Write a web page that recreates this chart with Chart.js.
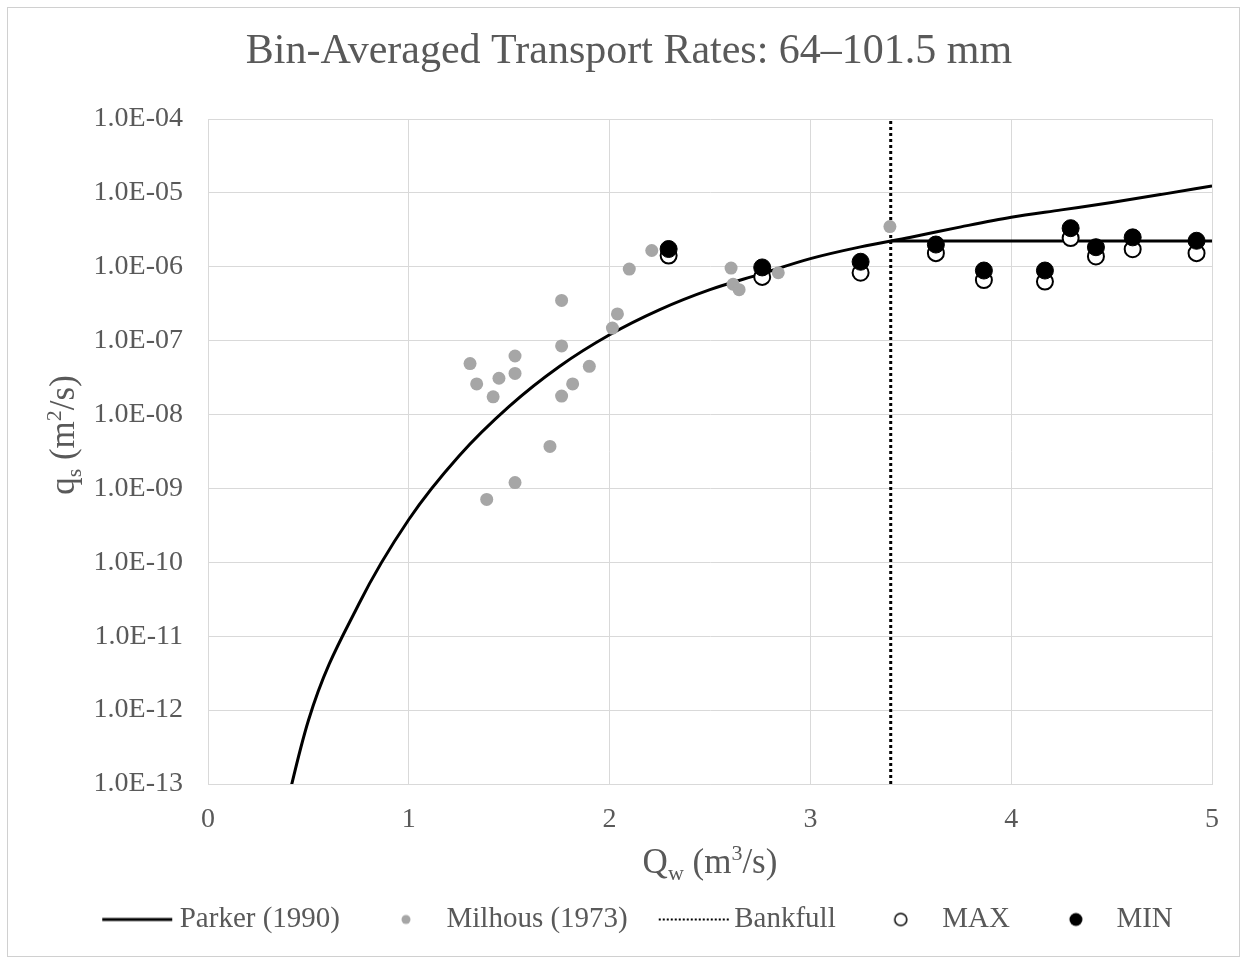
<!DOCTYPE html>
<html>
<head>
<meta charset="utf-8">
<title>Bin-Averaged Transport Rates</title>
<script src="https://cdn.jsdelivr.net/npm/chart.js@4.4.1/dist/chart.umd.min.js"></script>
<style>
  body { margin: 0; background: #fff; }
  #wrap { width: 1247px; height: 960px; }
</style>
</head>
<body>
<div id="wrap"><canvas id="chart" width="1247" height="960"></canvas></div>
<script>
// Parker (1990) curve
const parkerQ = [0.25, 0.5, 0.75, 1.0, 1.25, 1.5, 1.75, 2.0, 2.25, 2.5, 2.75, 3.0, 3.25, 3.5, 3.75, 4.0, 4.25, 4.5, 4.75, 5.0];
const parkerQs = [1.0e-15, 7.24e-13, 2.69e-11, 3.8e-10, 2.75e-9, 1.29e-8, 4.47e-8, 1.2e-7, 2.63e-7, 4.9e-7, 7.94e-7,
                  1.29e-6, 1.86e-6, 2.51e-6, 3.47e-6, 4.68e-6, 5.89e-6, 7.41e-6, 9.55e-6, 1.245e-5];
// Parker held at the bankfull value past bankfull
const cappedQ = [3.4, 5.0];
const cappedQs = [2.24e-6, 2.24e-6];

// Milhous (1973) measurements
const milhousQ = [1.305, 1.338, 1.388, 1.42, 1.449, 1.529, 1.529, 1.529, 1.703, 1.761, 1.761, 1.761,
                  1.816, 1.899, 2.014, 2.039, 2.098, 2.21, 2.605, 2.615, 2.645, 2.84, 3.396];
const milhousQs = [4.9e-8, 2.6e-8, 7.1e-10, 1.74e-8, 3.1e-8, 6.2e-8, 3.6e-8, 1.2e-9, 3.7e-9, 3.5e-7, 8.5e-8, 1.78e-8,
                   2.6e-8, 4.5e-8, 1.48e-7, 2.3e-7, 9.3e-7, 1.66e-6, 9.6e-7, 5.8e-7, 4.9e-7, 8.3e-7, 3.5e-6];

// bankfull discharge
const bankfullQ = 3.4;

// bin averages
const binQ = [2.294, 2.76, 3.25, 3.625, 3.864, 4.168, 4.296, 4.422, 4.605, 4.923];
const maxQs = [1.42e-6, 7.3e-7, 8.3e-7, 1.53e-6, 6.6e-7, 6.3e-7, 2.45e-6, 1.38e-6, 1.73e-6, 1.53e-6];
const minQs = [1.74e-6, 9.8e-7, 1.17e-6, 2.0e-6, 8.9e-7, 8.9e-7, 3.33e-6, 1.84e-6, 2.5e-6, 2.25e-6];

const xTicks = [0, 1, 2, 3, 4, 5];
const yTicks = [1e-13, 1e-12, 1e-11, 1e-10, 1e-9, 1e-8, 1e-7, 1e-6, 1e-5, 1e-4];
const yTickLabels = ['1.0E-13', '1.0E-12', '1.0E-11', '1.0E-10', '1.0E-09', '1.0E-08', '1.0E-07', '1.0E-06', '1.0E-05', '1.0E-04'];

const textColor = '#595959';
const gridColor = '#d9d9d9';
const serif = "'Liberation Serif', 'Times New Roman', serif";

function toPoints(xs, ys) {
    return xs.map((x, i) => ({x: x, y: ys[i]}));
}

// little pictures for the legend, box center is at canvas x 50, text starts near x 104
function legendSample(kind) {
    const c = document.createElement('canvas');
    c.width = 100;
    c.height = 24;
    const g = c.getContext('2d');
    const cy = 12;
    if (kind === 'line') {
        g.strokeStyle = '#000';
        g.lineWidth = 3;
        g.beginPath(); g.moveTo(27, cy); g.lineTo(97, cy); g.stroke();
    } else if (kind === 'dots') {
        g.strokeStyle = '#000';
        g.lineWidth = 2;
        g.setLineDash([2, 2]);
        g.beginPath(); g.moveTo(29, cy); g.lineTo(99, cy); g.stroke();
    } else if (kind === 'gray') {
        g.fillStyle = '#a6a6a6';
        g.beginPath(); g.arc(64, cy, 4.5, 0, Math.PI * 2); g.fill();
    } else if (kind === 'open') {
        g.strokeStyle = '#000';
        g.lineWidth = 1.5;
        g.beginPath(); g.arc(63, cy, 6, 0, Math.PI * 2); g.stroke();
    } else {
        g.fillStyle = '#000';
        g.beginPath(); g.arc(64, cy, 6.5, 0, Math.PI * 2); g.fill();
    }
    return c;
}

const legendOrder = ['Parker (1990)', 'Milhous (1973)', 'Bankfull', 'MAX', 'MIN'];
const legendKinds = {'Parker (1990)': 'line', 'Milhous (1973)': 'gray', 'Bankfull': 'dots', 'MAX': 'open', 'MIN': 'filled'};

function drawRich(ctx, parts, cx, cy, size) {
    const fontFor = p => (p.sub || p.sup ? Math.round(size * 0.62) : size) + 'px ' + serif;
    let total = 0;
    parts.forEach(p => { ctx.font = fontFor(p); total += ctx.measureText(p.t).width; });
    let x = cx - total / 2;
    ctx.textAlign = 'left';
    ctx.textBaseline = 'alphabetic';
    const base = cy + size * 0.33;
    parts.forEach(p => {
        ctx.font = fontFor(p);
        let y = base;
        if (p.sub) y += size * 0.2;
        if (p.sup) y -= size * 0.36;
        ctx.fillText(p.t, x, y);
        x += ctx.measureText(p.t).width;
    });
}

const xTitle = [{t: 'Q'}, {t: 'w', sub: true}, {t: ' (m'}, {t: '3', sup: true}, {t: '/s)'}];
const yTitle = [{t: 'q'}, {t: 's', sub: true}, {t: ' (m'}, {t: '2', sup: true}, {t: '/s)'}];

const frame = {
    id: 'frame',
    beforeDraw(chart) {
        const ctx = chart.ctx;
        ctx.save();
        ctx.fillStyle = '#fff';
        ctx.fillRect(0, 0, chart.width, chart.height);
        ctx.strokeStyle = '#d0d0d0';
        ctx.lineWidth = 1;
        ctx.strokeRect(7.5, 7.5, 1232, 949);
        ctx.restore();
    },
    afterDraw(chart) {
        const {ctx, chartArea} = chart;
        ctx.save();
        ctx.fillStyle = textColor;
        drawRich(ctx, xTitle, (chartArea.left + chartArea.right) / 2, chartArea.bottom + 77, 35);
        ctx.translate(62, 435);
        ctx.rotate(-Math.PI / 2);
        drawRich(ctx, yTitle, 0, 0, 35);
        ctx.restore();
    }
};

const datasets = [
    {
        label: 'MIN',
        data: toPoints(binQ, minQs),
        pointRadius: 8.5,
        pointBackgroundColor: '#000',
        pointBorderColor: '#000',
        pointBorderWidth: 1,
        showLine: false
    },
    {
        label: 'MAX',
        data: toPoints(binQ, maxQs),
        pointRadius: 8,
        pointBackgroundColor: '#fff',
        pointBorderColor: '#000',
        pointBorderWidth: 2,
        showLine: false
    },
    {
        label: 'Milhous (1973)',
        data: toPoints(milhousQ, milhousQs),
        pointRadius: 6.5,
        pointBackgroundColor: '#a6a6a6',
        pointBorderColor: '#a6a6a6',
        pointBorderWidth: 0,
        showLine: false
    },
    {
        label: 'Bankfull',
        data: [{x: bankfullQ, y: yTicks[0]}, {x: bankfullQ, y: yTicks[yTicks.length - 1]}],
        showLine: true,
        borderColor: '#000',
        borderWidth: 3,
        borderDash: [3, 3],
        pointRadius: 0
    },
    {
        label: 'Parker (1990)',
        data: toPoints(parkerQ, parkerQs),
        showLine: true,
        borderColor: '#000',
        borderWidth: 3,
        pointRadius: 0,
        cubicInterpolationMode: 'monotone'
    },
    {
        label: 'Parker capped',
        data: toPoints(cappedQ, cappedQs),
        showLine: true,
        borderColor: '#000',
        borderWidth: 3,
        pointRadius: 0
    }
];

new Chart(document.getElementById('chart'), {
    type: 'scatter',
    data: {datasets: datasets},
    plugins: [frame],
    options: {
        responsive: false,
        animation: false,
        devicePixelRatio: 1,
        events: [],
        layout: {padding: {left: 46, right: 35, top: 0, bottom: 16}},
        plugins: {
            title: {
                display: true,
                text: 'Bin-Averaged Transport Rates: 64\u2013101.5 mm',
                color: textColor,
                font: {family: serif, size: 42, weight: 'normal'},
                padding: {top: 27, bottom: 41.6}
            },
            tooltip: {enabled: false},
            legend: {
                position: 'bottom',
                labels: {
                    usePointStyle: true,
                    pointStyleWidth: 80,
                    padding: 12,
                    color: textColor,
                    font: {family: serif, size: 29},
                    generateLabels: chart => legendOrder.map(name => ({
                        text: name,
                        pointStyle: legendSample(legendKinds[name]),
                        datasetIndex: chart.data.datasets.findIndex(d => d.label === name),
                        fontColor: textColor,
                        fillStyle: 'rgba(0,0,0,0)',
                        strokeStyle: 'rgba(0,0,0,0)',
                        lineWidth: 0,
                        hidden: false
                    }))
                }
            }
        },
        scales: {
            x: {
                type: 'linear',
                min: 0,
                max: 5,
                afterBuildTicks: s => { s.ticks = xTicks.map(v => ({value: v})); },
                afterFit: s => { s.height = 109; },
                ticks: {color: textColor, font: {family: serif, size: 28}, padding: 19},
                grid: {color: gridColor, lineWidth: 1, drawTicks: false},
                border: {color: gridColor}
            },
            y: {
                type: 'logarithmic',
                min: 1e-13,
                max: 1e-4,
                afterBuildTicks: s => { s.ticks = yTicks.map(v => ({value: v})); },
                afterFit: s => { s.width = 162; },
                ticks: {
                    color: textColor,
                    font: {family: serif, size: 28},
                    padding: 25,
                    autoSkip: false,
                    callback: (v, i) => yTickLabels[i]
                },
                grid: {color: gridColor, lineWidth: 1, drawTicks: false},
                border: {color: gridColor}
            }
        }
    }
});
</script>
</body>
</html>
